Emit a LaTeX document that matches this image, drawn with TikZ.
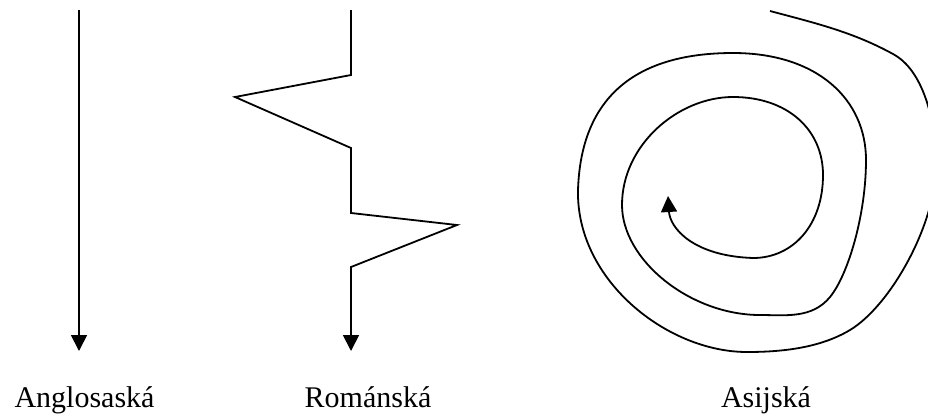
\documentclass[tikz,border=0pt]{standalone}
\usepackage{fontspec}
\setmainfont{Liberation Serif}
\usetikzlibrary{arrows.meta}
\begin{document}
\begin{tikzpicture}[x=1pt,y=-1pt,
  ln/.style={line width=1.8pt,line join=miter},
  arr/.style={-{Triangle[width=16pt,length=16pt]}},
  lab/.style={anchor=base,font=\fontsize{30}{36}\selectfont,inner sep=0pt}]
\useasboundingbox (0,0) rectangle (928,416);
\clip (0,0) rectangle (928,416);
% Anglosaska
\coordinate (a1) at (79,10);
\coordinate (a2) at (79,351);
\draw[ln,arr] (a1) -- (a2);
% Romanska
\coordinate (r1) at (351,10);
\coordinate (r2) at (351,75);
\coordinate (r3) at (235,97);
\coordinate (r4) at (351,148);
\coordinate (r5) at (351,213);
\coordinate (r6) at (457,225);
\coordinate (r7) at (351,267);
\coordinate (r8) at (351,351);
\draw[ln,arr] (r1) -- (r2) -- (r3) -- (r4) -- (r5) -- (r6) -- (r7) -- (r8);
% Asijska spiral
\coordinate (sA) at (770,11);
\coordinate (sB) at (893,54);
\coordinate (sC) at (936,165);
\coordinate (sD) at (850,330);
\coordinate (sE) at (747,352);
\coordinate (sG) at (578,190);
\coordinate (sI) at (733,53);
\coordinate (sK) at (866,160);
\coordinate (sL) at (830,297);
\coordinate (sM) at (760,315);
\coordinate (sN) at (622,205);
\coordinate (sQ) at (733,97);
\coordinate (sS) at (823,175);
\coordinate (sU) at (753,258);
\coordinate (sW) at (668,196);
\draw[ln,arr] (sA)
  .. controls +(45,12) and +(-40,-22) .. (sB)
  .. controls +(30,16) and +(0,-45) .. (sC)
  .. controls +(0,60) and +(40,-24) .. (sD)
  .. controls +(-30,18) and +(35,0) .. (sE)
  .. controls +(-80,0) and +(-2,90) .. (sG)
  .. controls +(3,-95) and +(-95,0) .. (sI)
  .. controls +(85,0) and +(0,-60) .. (sK)
  .. controls +(0,55) and +(18,-22) .. (sL)
  .. controls +(-18,22) and +(25,0) .. (sM)
  .. controls +(-70,0) and +(0,55) .. (sN)
  .. controls +(0,-60) and +(-55,0) .. (sQ)
  .. controls +(55,0) and +(0,-45) .. (sS)
  .. controls +(0,50) and +(40,0) .. (sU)
  .. controls +(-60,-2) and +(2,32) .. (sW);
% labels
\node[lab] (t1) at (84.5,407) {Anglosaská};
\node[lab] (t2) at (368,407) {Románská};
\node[lab] (t3) at (766,407) {Asijská};
\end{tikzpicture}
\end{document}
